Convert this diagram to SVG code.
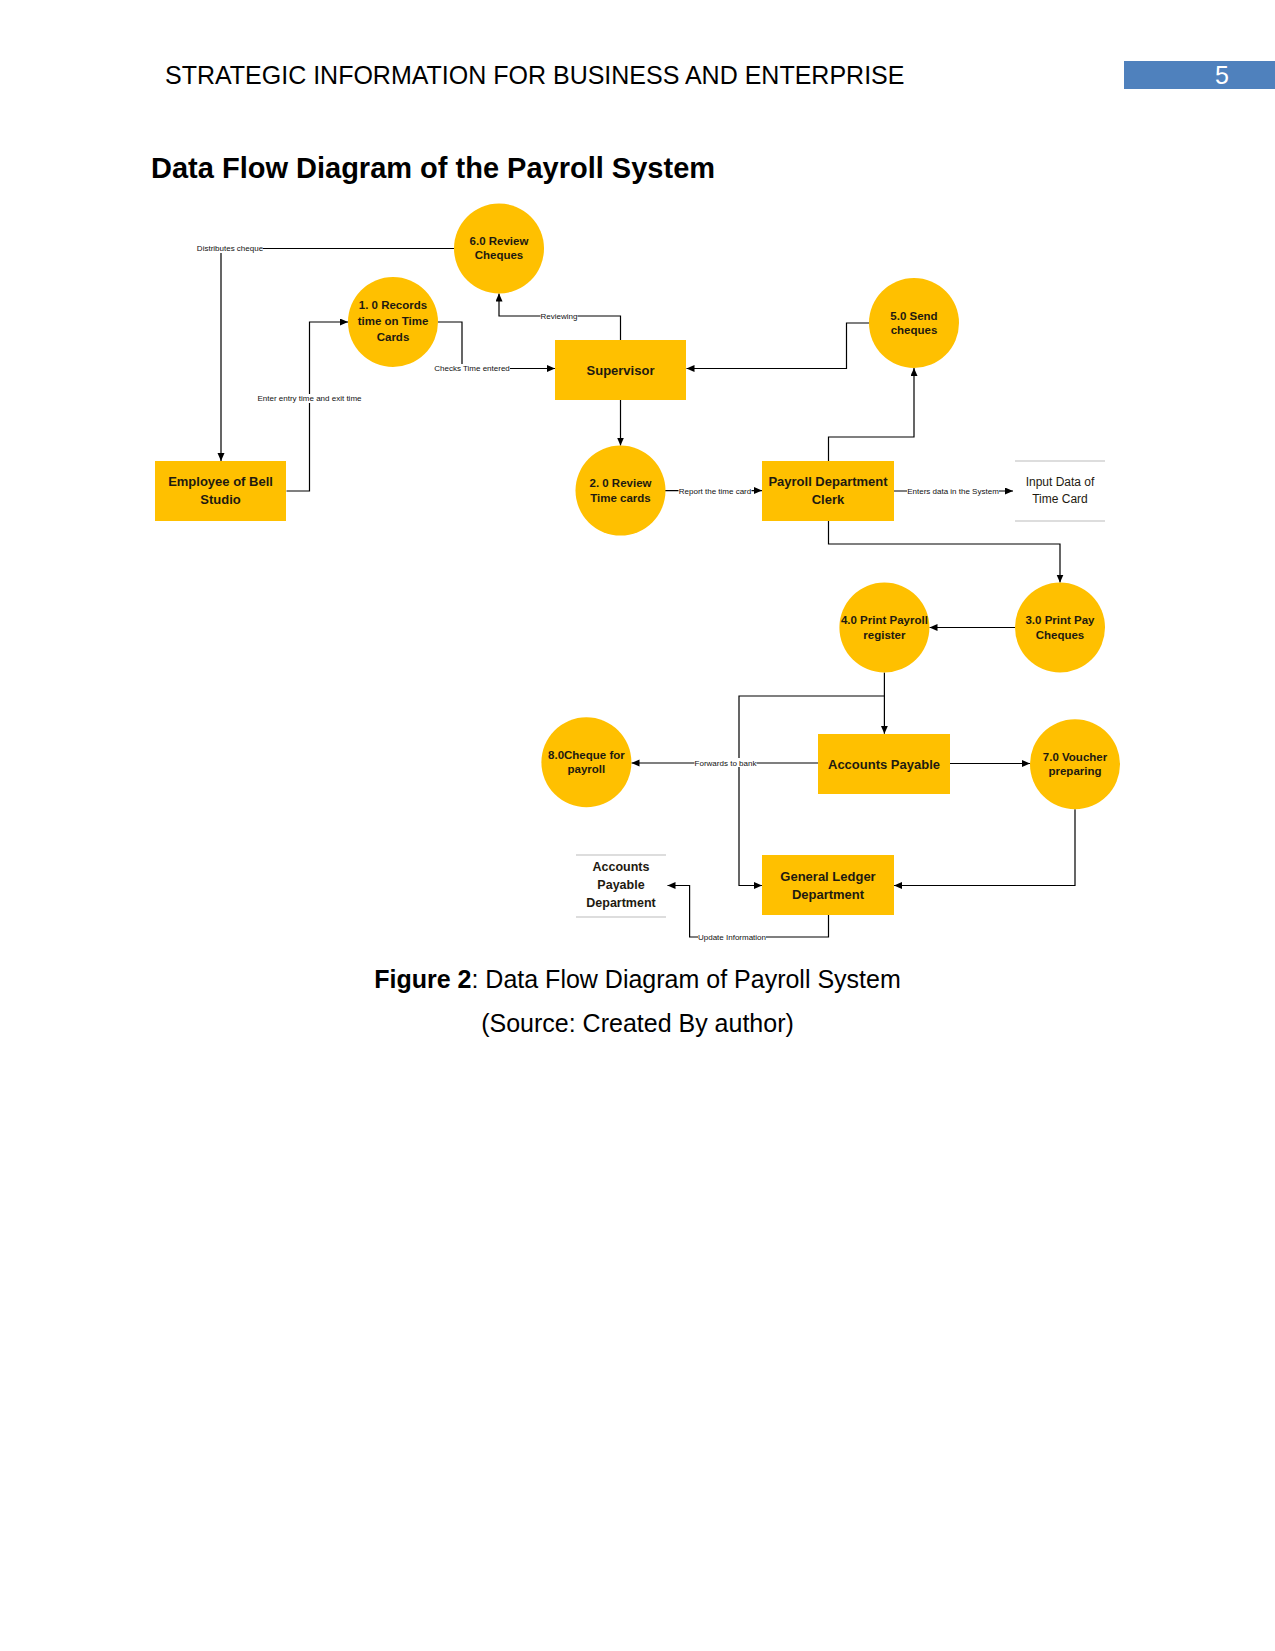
<svg xmlns="http://www.w3.org/2000/svg" width="1275" height="1651" viewBox="0 0 1275 1651">
<style>
.hdr{font-family:"Liberation Sans",Arial,sans-serif;font-size:25px;fill:#000}
.title{font-family:"Liberation Sans",Arial,sans-serif;font-size:29px;font-weight:bold;fill:#000}
.cap{font-family:"Liberation Sans",Arial,sans-serif;font-size:25px;fill:#000;text-anchor:middle}
.shape{fill:#FFC000}
.clbl{font-family:"Liberation Sans",Arial,sans-serif;font-size:11.5px;font-weight:bold;fill:#1e1a10;text-anchor:middle}
.blbl{font-family:"Liberation Sans",Arial,sans-serif;font-size:13px;font-weight:bold;fill:#1e1a10;text-anchor:middle}
.slbl{font-family:"Liberation Sans",Arial,sans-serif;font-size:12px;fill:#1e1a10;text-anchor:middle}
.flow{fill:none;stroke:#000;stroke-width:1.2;marker-end:url(#arr)}
.flbl{font-family:"Liberation Sans",Arial,sans-serif;font-size:8px;fill:#111;text-anchor:middle}
.bg{fill:#fff}
.store{stroke:#bbb;stroke-width:1}
</style>
<defs>
<marker id="arr" markerUnits="userSpaceOnUse" markerWidth="9" markerHeight="8" refX="8" refY="3.5" orient="auto">
<path d="M0,0 L8,3.5 L0,7 z" fill="#000"/>
</marker>
</defs>
<rect width="1275" height="1651" fill="#fff"/>
<g id="header">
<text class="hdr" x="165" y="84">STRATEGIC INFORMATION FOR BUSINESS AND ENTERPRISE</text>
<rect x="1124" y="61" width="151" height="28" fill="#4F81BD"/>
<text class="hdr" x="1222" y="84" style="fill:#fff" text-anchor="middle">5</text>
<text class="title" x="151" y="178">Data Flow Diagram of the Payroll System</text>
</g>
<g id="connectors">
<path class="flow" d="M454,248.5 H221 V461"/>
<path class="flow" d="M286.5,491 H309.5 V322 H348"/>
<path class="flow" d="M438,322 H462 V368.5 H555"/>
<path class="flow" d="M620.5,340 V316 H499 V293.5"/>
<path class="flow" d="M869,323 H846.5 V368.5 H686.5"/>
<path class="flow" d="M620.5,400 V445.5"/>
<path class="flow" d="M665,490.6 H762"/>
<path class="flow" d="M828.5,461 V437 H914 V368"/>
<path class="flow" d="M894,491 H1013"/>
<path class="flow" d="M828.5,521 V544 H1060 V582.5"/>
<path class="flow" d="M1015,627.5 H929.5"/>
<path class="flow" d="M884.4,672.5 V733.8"/>
<path class="flow" d="M884.4,696 H739 V885.5 H762"/>
<path class="flow" d="M818,763 H631.5"/>
<path class="flow" d="M949.6,763.5 H1030"/>
<path class="flow" d="M1075,809.3 V885.5 H894"/>
<path class="flow" d="M828.5,915 V937 H689.6 V885.5 H667.5"/>
<rect class="bg" x="197" y="244" width="66" height="9"/>
<text class="flbl" x="230" y="251">Distributes cheque</text>
<rect class="bg" x="257.5" y="394" width="104" height="9"/>
<text class="flbl" x="309.5" y="401">Enter entry time and exit time</text>
<rect class="bg" x="434" y="364" width="76" height="9"/>
<text class="flbl" x="472" y="371">Checks Time entered</text>
<rect class="bg" x="540.5" y="311.5" width="37" height="9"/>
<text class="flbl" x="559" y="318.8">Reviewing</text>
<rect class="bg" x="678.5" y="486" width="73" height="9"/>
<text class="flbl" x="715" y="493.5">Report the time card</text>
<rect class="bg" x="907" y="486.5" width="92" height="9"/>
<text class="flbl" x="953" y="494">Enters data in the System</text>
<rect class="bg" x="694.5" y="758" width="62" height="9"/>
<text class="flbl" x="725.5" y="765.5">Forwards to bank</text>
<rect class="bg" x="698" y="932.5" width="68" height="9"/>
<text class="flbl" x="732" y="940">Update Information</text>
</g>
<g id="p6">
<circle class="shape" cx="499" cy="248.5" r="45"/>
<text class="clbl" x="499" y="244.5">6.0 Review</text>
<text class="clbl" x="499" y="259">Cheques</text>
</g>
<g id="p1">
<circle class="shape" cx="393" cy="322" r="45"/>
<text class="clbl" x="393" y="309">1. 0 Records</text>
<text class="clbl" x="393" y="325">time on Time</text>
<text class="clbl" x="393" y="341">Cards</text>
</g>
<g id="p5">
<circle class="shape" cx="914" cy="323" r="45"/>
<text class="clbl" x="914" y="319.5">5.0 Send</text>
<text class="clbl" x="914" y="334">cheques</text>
</g>
<g id="supervisor">
<rect class="shape" x="555" y="340" width="131" height="60"/>
<text class="blbl" x="620.5" y="375">Supervisor</text>
</g>
<g id="employee">
<rect class="shape" x="155" y="461" width="131" height="60"/>
<text class="blbl" x="220.5" y="486">Employee of Bell</text>
<text class="blbl" x="220.5" y="504">Studio</text>
</g>
<g id="p2">
<circle class="shape" cx="620.5" cy="490.6" r="45"/>
<text class="clbl" x="620.5" y="487">2. 0 Review</text>
<text class="clbl" x="620.5" y="502">Time cards</text>
</g>
<g id="clerk">
<rect class="shape" x="762" y="461" width="132" height="60"/>
<text class="blbl" x="828" y="486">Payroll Department</text>
<text class="blbl" x="828" y="504">Clerk</text>
</g>
<g id="input-data">
<line class="store" x1="1015" y1="461" x2="1105" y2="461"/>
<line class="store" x1="1015" y1="521" x2="1105" y2="521"/>
<text class="slbl" x="1060" y="486">Input Data of</text>
<text class="slbl" x="1060" y="503">Time Card</text>
</g>
<g id="p4">
<circle class="shape" cx="884.4" cy="627.5" r="45"/>
<text class="clbl" x="884.4" y="624">4.0 Print Payroll</text>
<text class="clbl" x="884.4" y="638.5">register</text>
</g>
<g id="p3">
<circle class="shape" cx="1060" cy="627.5" r="45"/>
<text class="clbl" x="1060" y="624">3.0 Print Pay</text>
<text class="clbl" x="1060" y="638.5">Cheques</text>
</g>
<g id="accounts-payable">
<rect class="shape" x="818" y="734" width="132" height="60"/>
<text class="blbl" x="884" y="768.5">Accounts Payable</text>
</g>
<g id="p8">
<circle class="shape" cx="586.4" cy="762.2" r="45"/>
<text class="clbl" x="586.4" y="758.5">8.0Cheque for</text>
<text class="clbl" x="586.4" y="773">payroll</text>
</g>
<g id="p7">
<circle class="shape" cx="1075" cy="764.3" r="45"/>
<text class="clbl" x="1075" y="760.5">7.0 Voucher</text>
<text class="clbl" x="1075" y="775">preparing</text>
</g>
<g id="general-ledger">
<rect class="shape" x="762" y="855" width="132" height="60"/>
<text class="blbl" x="828" y="880.5">General Ledger</text>
<text class="blbl" x="828" y="898.5">Department</text>
</g>
<g id="ap-department">
<line class="store" x1="576" y1="855" x2="666" y2="855"/>
<line class="store" x1="576" y1="917" x2="666" y2="917"/>
<text class="blbl" x="621" y="871" style="font-size:12.5px">Accounts</text>
<text class="blbl" x="621" y="889" style="font-size:12.5px">Payable</text>
<text class="blbl" x="621" y="907" style="font-size:12.5px">Department</text>
</g>
<g id="caption">
<text class="cap" x="637.5" y="988"><tspan font-weight="bold">Figure 2</tspan>: Data Flow Diagram of Payroll System</text>
<text class="cap" x="637.5" y="1032">(Source: Created By author)</text>
</g>
</svg>
